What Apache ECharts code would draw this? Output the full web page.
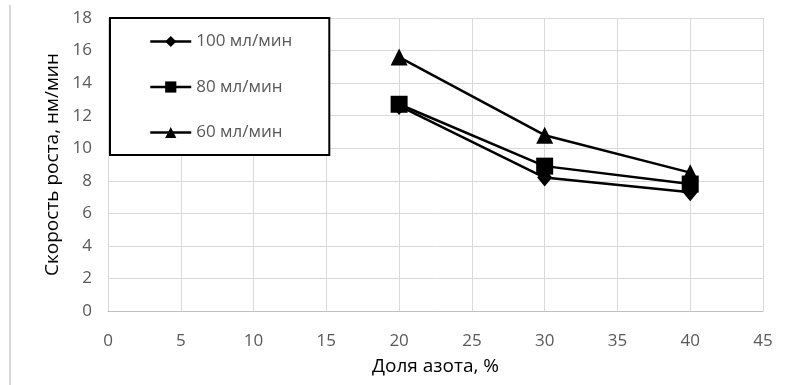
<!DOCTYPE html>
<html>
<head>
<meta charset="utf-8">
<script src="https://cdn.jsdelivr.net/npm/echarts@6/dist/echarts.min.js"></script>
<style>
html,body{margin:0;padding:0;background:#fff;}
#chart{width:786px;height:385px;}
</style>
</head>
<body>
<div id="chart"></div>
<script>
const seriesNames = ['100 мл/мин', '80 мл/мин', '60 мл/мин'];
const xValues = [20, 30, 40];
const values100 = [12.6, 8.2, 7.3];
const values80 = [12.7, 8.9, 7.8];
const values60 = [15.6, 10.8, 8.5];
const xTitle = 'Доля азота, %';
const yTitle = 'Скорость роста, нм/мин';

const FONT = '"Open Sans", "Noto Sans", sans-serif';

function pairs(vals) { return xValues.map((x, i) => [x, vals[i]]); }

const chart = echarts.init(document.getElementById('chart'), null, {renderer: 'canvas'});
const markerDefs = [
  {data: values100, symbol: 'diamond', size: [15, 18]},
  {data: values80, symbol: 'rect', size: 17},
  {data: values60, symbol: 'triangle', size: 17}
];

chart.setOption({
  animation: false,
  backgroundColor: '#fff',
  textStyle: {fontFamily: FONT},
  grid: {left: 108, right: 23, top: 18, bottom: 74, containLabel: false},
  xAxis: {
    type: 'value', min: 0, max: 45, interval: 5,
    name: xTitle, nameLocation: 'middle', nameGap: 46,
    nameTextStyle: {fontSize: 19, color: '#000', fontFamily: FONT},
    axisLine: {show: true, lineStyle: {color: '#bfbfbf', width: 1}},
    axisTick: {show: false},
    axisLabel: {fontSize: 17, color: '#595959', margin: 22, fontFamily: FONT},
    splitLine: {show: true, lineStyle: {color: '#d9d9d9', width: 1}}
  },
  yAxis: {
    type: 'value', min: 0, max: 18, interval: 2,
    name: yTitle, nameLocation: 'middle', nameGap: 42,
    nameTextStyle: {fontSize: 19, color: '#000', fontFamily: FONT},
    axisLine: {show: false},
    axisTick: {show: false},
    axisLabel: {fontSize: 17, color: '#595959', margin: 16, fontFamily: FONT},
    splitLine: {show: true, lineStyle: {color: '#d9d9d9', width: 1}}
  },
  legend: {
    orient: 'vertical', left: 110, top: 18,
    data: seriesNames,
    itemWidth: 41, itemHeight: 14, itemGap: 28.5,
    padding: [15, 37, 14, 39],
    borderColor: '#000', borderWidth: 2, backgroundColor: '#fff',
    textStyle: {fontSize: 17, color: '#595959', lineHeight: 17, fontFamily: FONT},
    itemStyle: {color: '#000'},
    lineStyle: {color: '#000', width: 2.5}
  },
  graphic: [
    {type: 'line', shape: {x1: 10, y1: 5, x2: 10, y2: 385}, style: {stroke: '#d9d9d9', lineWidth: 2}}
  ],
  series: markerDefs.map((m, i) => ({
    name: seriesNames[i],
    type: 'line',
    data: pairs(m.data),
    symbol: m.symbol,
    symbolSize: m.size,
    showAllSymbol: true,
    lineStyle: {color: '#000', width: 2.5},
    itemStyle: {color: '#000'},
    z: 2 + (i === 1 ? 1 : 0)
  }))
});
</script>
</body>
</html>
